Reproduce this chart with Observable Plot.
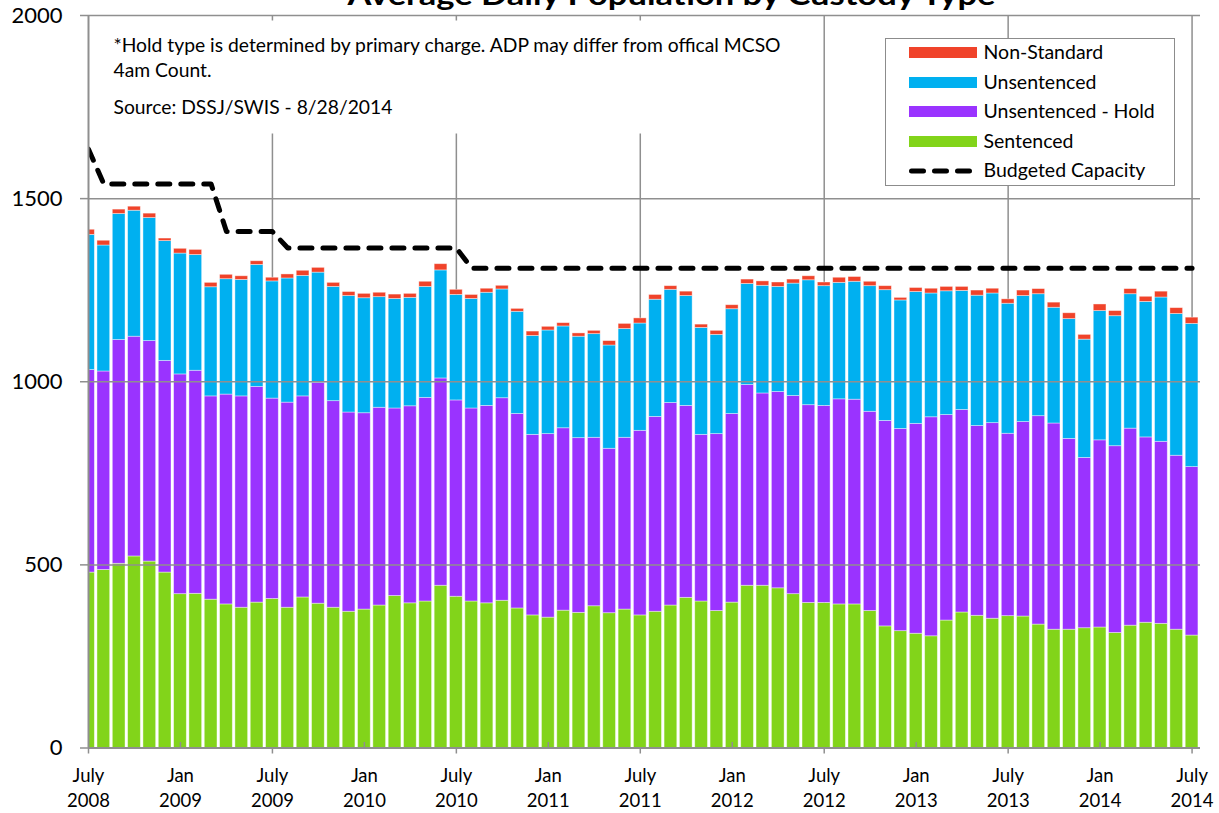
<!DOCTYPE html>
<html><head><meta charset="utf-8">
<script src="https://cdn.jsdelivr.net/npm/d3@7"></script>
<script src="https://cdn.jsdelivr.net/npm/@observablehq/plot@0.6"></script>
<style>
body{margin:0;background:#fff;font-family:Lato,sans-serif;}
#wrap{position:relative;width:1219px;height:813px;overflow:hidden;}
#legend{position:absolute;left:885px;top:38px;width:290px;height:148px;box-sizing:border-box;border:1.5px solid #8c8c8c;background:#fff;padding-top:0px;}
.row{height:29.5px;display:flex;align-items:center;position:relative;top:-2px;}
.sw{margin-left:22.5px;width:68px;height:11px;flex:none;position:relative;top:1px;}
.lab{margin-left:7px;font-size:19.5px;color:#000;white-space:nowrap;}
</style></head><body><div id="wrap"></div>
<script>
// Monthly values, July 2008 .. July 2014 (73 months)
const sentenced = [
  479,486,503,523,509,479,420,421,405,392,383,397,
  407,383,411,394,383,372,378,389,415,395,400,443,
  413,400,395,402,381,362,356,375,369,387,368,378,
  362,372,389,410,400,374,397,443,443,436,420,396,
  396,392,392,374,332,319,312,305,348,370,361,353,
  360,359,337,323,323,327,329,314,334,342,339,323,
  307];
const unsentencedHold = [
  553,542,611,600,602,578,600,609,555,573,577,589,
  547,560,549,603,564,544,536,540,512,538,556,566,
  536,527,539,553,531,493,501,498,477,460,449,469,
  504,532,553,524,455,483,515,548,525,536,541,540,
  538,560,559,544,561,552,573,598,561,553,518,534,
  498,531,569,563,521,465,511,510,538,506,497,475,
  460];
const unsentenced = [
  369,344,344,344,336,327,330,316,298,315,318,333,
  320,339,329,301,312,318,314,302,299,296,303,295,
  288,299,309,297,279,270,283,278,277,283,282,297,
  293,320,309,300,292,271,286,276,294,287,307,341,
  327,318,322,343,357,351,360,338,338,325,356,354,
  355,344,333,316,327,323,353,355,367,370,394,387,
  391];
const nonStandard = [
  14,13,12,11,12,7,13,14,12,12,10,10,
  10,11,14,13,11,11,12,12,12,11,14,17,
  14,11,11,10,8,12,10,9,9,9,12,14,
  14,13,10,12,9,11,11,12,12,12,11,11,
  10,14,13,12,11,7,11,13,12,11,14,13,
  12,15,14,14,16,13,18,14,14,14,16,16,
  17];
const budgetedCapacity = [
  1635,
  1540,1540,1540,1540,1540,1540,1540,1540,
  1410,1410,1410,1410,
  1365,1365,1365,1365,1365,1365,1365,1365,1365,1365,1365,1365,
  1310,1310,1310,1310,1310,1310,1310,1310,1310,1310,1310,1310,
  1310,1310,1310,1310,1310,1310,1310,1310,1310,1310,1310,1310,
  1310,1310,1310,1310,1310,1310,1310,1310,1310,1310,1310,1310,
  1310,1310,1310,1310,1310,1310,1310,1310,1310,1310,1310,1310];

const tickMonths = [0,6,12,18,24,30,36,42,48,54,60,66,72];
const tickLabels = ["July\n2008","Jan\n2009","July\n2009","Jan\n2010","July\n2010","Jan\n2011","July\n2011","Jan\n2012","July\n2012","Jan\n2013","July\n2013","Jan\n2014","July\n2014"];
const julyTicks = [0,12,24,36,48,60,72];
const janTicks = [6,18,30,42,54,66];
const yTicks = [0,500,1000,1500,2000];

const seriesNames = ["Sentenced","Unsentenced - Hold","Unsentenced","Non-Standard"];
const seriesColors = ["#82D41A","#9A33FF","#00B0F0","#F0432A"];
const legendOrder = ["Non-Standard","Unsentenced","Unsentenced - Hold","Sentenced"];
const capacityName = "Budgeted Capacity";
const title = "Average Daily Population by Custody Type";
const noteLines = [
  "*Hold type is determined by primary charge. ADP may differ from offical MCSO",
  "4am Count.",
  "Source: DSSJ/SWIS - 8/28/2014"];

const seriesValues = [sentenced, unsentencedHold, unsentenced, nonStandard];
const rows = [];
for (let i = 0; i < sentenced.length; i++) {
  let base = 0;
  seriesValues.forEach((vals, k) => {
    rows.push({i, name: seriesNames[k], y1: base, y2: base + vals[i]});
    base += vals[i];
  });
}

const gray = "#8f8f8f";
const noteOpts = {text: d => d, frameAnchor: "top-left", textAnchor: "start", lineAnchor: "bottom", dx: 25, fontSize: 19.3};
const chart = Plot.plot({
  width: 1219, height: 813,
  marginLeft: 88, marginRight: 19, marginTop: 15, marginBottom: 65.5,
  style: {fontFamily: "Lato, sans-serif", background: "#fff", color: "#000"},
  x: {type: "linear", domain: [0, 72.55], label: null},
  y: {domain: [0, 2000], label: null},
  color: {domain: seriesNames, range: seriesColors},
  marks: [
    Plot.ruleX(julyTicks.slice(1), {stroke: gray, strokeWidth: 1.5}),
    Plot.rectY(rows, {x1: d => d.i - 0.415, x2: d => d.i + 0.415, y1: "y1", y2: "y2", fill: "name",
      stroke: "white", strokeOpacity: 0.5, strokeWidth: 0.8, clip: true}),
    Plot.ruleY(yTicks.slice(1), {stroke: gray, strokeWidth: 1.5}),
    Plot.frame({fill: "white", stroke: null, insetTop: 5, insetBottom: 614.5, insetLeft: 17, insetRight: 380}),
    Plot.text([noteLines[0]], {...noteOpts, dy: 36.7}),
    Plot.text([noteLines[1]], {...noteOpts, dy: 61.7}),
    Plot.text([noteLines[2]], {...noteOpts, dy: 98.3}),
    Plot.line(budgetedCapacity, {x: (d, i) => i, y: d => d, stroke: "#000", strokeWidth: 5,
      strokeDasharray: "12,11", strokeLinecap: "round", strokeLinejoin: "round", clip: true}),
    Plot.ruleY([0], {stroke: gray, strokeWidth: 2}),
    Plot.ruleX([0], {stroke: gray, strokeWidth: 2}),
    Plot.tickX(janTicks, {x: d => d, stroke: gray, strokeWidth: 1.5, insetTop: 727}),
    Plot.axisY({ticks: yTicks, tickSize: 8, tickPadding: 18, fontSize: 22, stroke: gray, strokeWidth: 1.5, fill: "#000", tickFormat: d3.format("d")}),
    Plot.axisX({ticks: julyTicks, tickSize: 6, stroke: gray, strokeWidth: 1.5, tickFormat: () => ""}),
    Plot.axisX({ticks: tickMonths, tickSize: 0, tickPadding: 16.5, fontSize: 18.5, lineHeight: 1.35, fill: "#000",
      tickFormat: d => tickLabels[tickMonths.indexOf(d)]}),
    Plot.text([title], {text: d => d, frameAnchor: "top", dx: 27, dy: -10.5, lineAnchor: "bottom", fontSize: 29, fontWeight: "bold"})
  ]
});
d3.select(chart).selectAll("text").filter(function() { return this.textContent === title; })
  .attr("textLength", 648).attr("lengthAdjust", "spacingAndGlyphs");

const wrap = document.getElementById("wrap");
wrap.appendChild(chart);

const legend = document.createElement("div");
legend.id = "legend";
legendOrder.forEach(name => {
  const row = document.createElement("div"); row.className = "row";
  const sw = document.createElement("div"); sw.className = "sw";
  sw.style.background = seriesColors[seriesNames.indexOf(name)];
  const lab = document.createElement("div"); lab.className = "lab"; lab.textContent = name;
  row.appendChild(sw); row.appendChild(lab); legend.appendChild(row);
});
{
  const row = document.createElement("div"); row.className = "row";
  const ns = "http://www.w3.org/2000/svg";
  const svg = document.createElementNS(ns, "svg");
  svg.setAttribute("width", 68); svg.setAttribute("height", 12);
  svg.style.marginLeft = "20.5px"; svg.style.flex = "none"; svg.style.position = "relative"; svg.style.top = "1px";
  const ln = document.createElementNS(ns, "line");
  ln.setAttribute("x1", 4.5); ln.setAttribute("x2", 64); ln.setAttribute("y1", 6); ln.setAttribute("y2", 6);
  ln.setAttribute("stroke", "#000"); ln.setAttribute("stroke-width", 5);
  ln.setAttribute("stroke-dasharray", "12,11"); ln.setAttribute("stroke-linecap", "round");
  svg.appendChild(ln);
  const lab = document.createElement("div"); lab.className = "lab"; lab.textContent = capacityName;
  lab.style.marginLeft = "9px";
  row.appendChild(svg); row.appendChild(lab); legend.appendChild(row);
}
wrap.appendChild(legend);
</script></body></html>
